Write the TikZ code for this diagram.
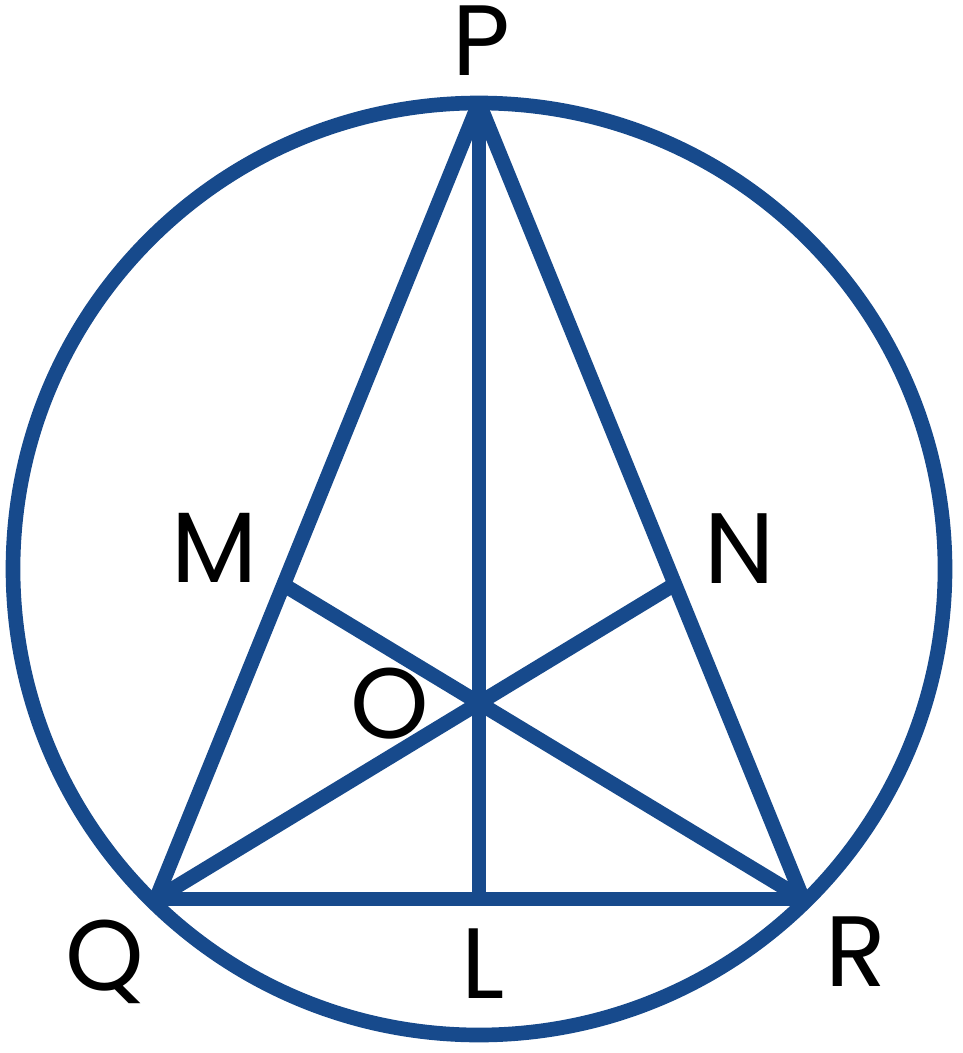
\documentclass[tikz,border=0pt]{standalone}
\usepackage{fontspec}
\setmainfont{Poppins}
\usetikzlibrary{calc}
\definecolor{geoblue}{RGB}{23,74,140}

\begin{document}
\begin{tikzpicture}[x=0.75pt, y=-0.75pt,
  edge/.style={geoblue, line width=11pt},
  vlabel/.style={anchor=base, inner sep=0pt, text=black, font=\fontsize{75}{80}\selectfont}]
  \useasboundingbox (0,0) rectangle (963,1053);

  % Points
  \coordinate (C) at (479,569);
  \coordinate (P) at (479,103);
  \coordinate (Q) at (156,899);
  \coordinate (R) at (803,899);
  \coordinate (L) at (479,899);
  \coordinate (O) at (479,703);
  \coordinate (M) at (intersection of P--Q and R--O);
  \coordinate (N) at (intersection of P--R and Q--O);

  % Circle
  \draw[edge] (C) circle (349.5pt);

  % Triangle and cevians
  \draw[edge] (P) -- (Q);
  \draw[edge] (P) -- (R);
  \draw[edge] (Q) -- (R);
  \draw[edge] (P) -- (L);
  \draw[edge] (M) -- (R);
  \draw[edge] (N) -- (Q);

  % Labels
  \node[vlabel] (lblP) at (481,75) {P};
  \node[vlabel] (lblQ) at (105,990) {Q};
  \node[vlabel] (lblR) at (856,986) {R};
  \node[vlabel] (lblL) at (483,998) {L};
  \node[vlabel] (lblM) at (215,582) {M};
  \node[vlabel] (lblN) at (740,583) {N};
  \node[vlabel] (lblO) at (390,738) {O};
\end{tikzpicture}
\end{document}
